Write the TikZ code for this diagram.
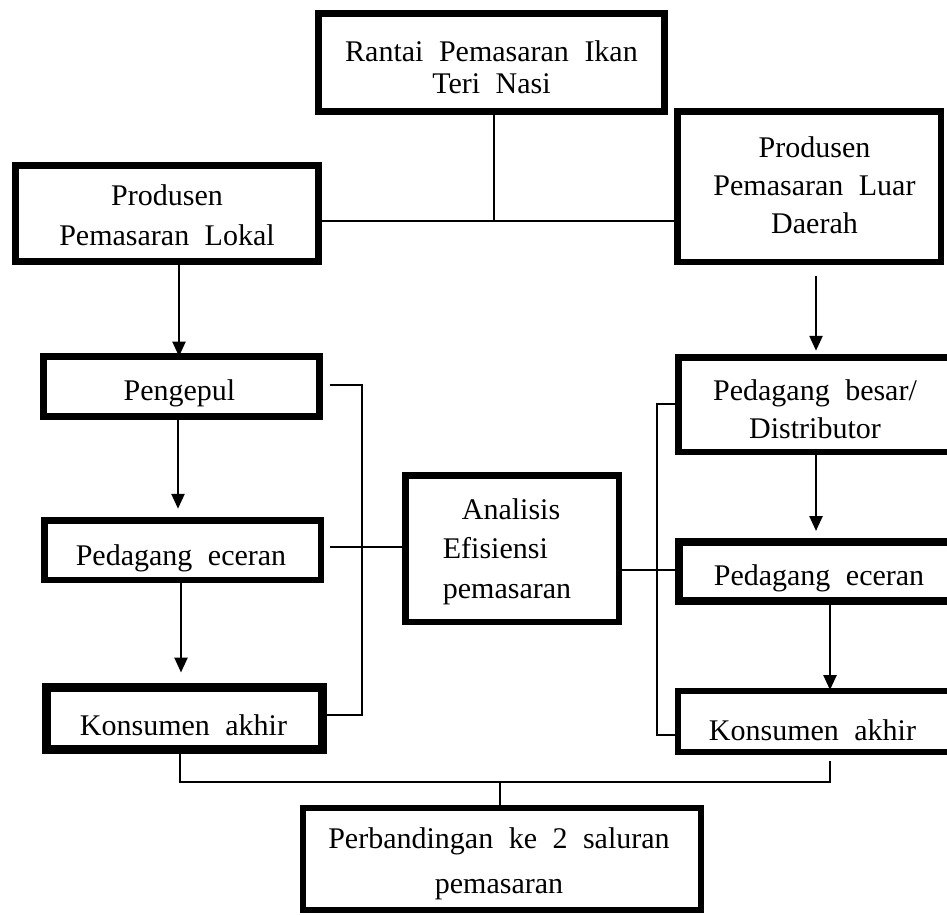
\documentclass[tikz,border=0pt]{standalone}
\usepackage{fontspec}
\setmainfont{Liberation Serif}
\usetikzlibrary{arrows.meta}
% #1 baseline shift below centre, #2 horizontal offset (x2), #3 line spacing, #4 column, #5 text
\newcommand\bt[5]{\raisebox{-#1pt}[0pt][0pt]{\makebox[0pt]{\hspace*{#2pt}\fontsize{30}{#3}\selectfont\spaceskip=15.5pt\relax\begin{tabular}[t]{@{}#4@{}}#5\end{tabular}}}}
\begin{document}
\begin{tikzpicture}[x=1pt,y=-1pt,
  box/.style={draw, line width=6.5pt, inner sep=0pt},
  ln/.style={line width=2.5pt},
  arr/.style={ln, -{Triangle[width=13pt,length=15pt]}}]
\useasboundingbox (0,0) rectangle (947,914);

% boxes
\node[box, line width=7pt, minimum width=346pt, minimum height=98pt] (rantai) at (491.5,62.5)
  {\bt{-1}{0}{32}{c}{Rantai Pemasaran Ikan\\Teri Nasi}};
\node[box, line width=7pt, minimum width=303pt, minimum height=96pt] (lokal) at (167,213.5)
  {\bt{-8.5}{0}{40}{c}{Produsen\\Pemasaran Lokal}};
\node[box, minimum width=263.5pt, minimum height=150.5pt] (luar) at (809,186.5)
  {\bt{-29.5}{11}{38}{c}{Produsen\\Pemasaran Luar\\Daerah}};
\node[box, line width=7pt, minimum width=276pt, minimum height=60pt] (pengepul) at (181.5,386.5)
  {\bt{13.5}{-4}{38}{c}{Pengepul}};
\node[box, minimum width=276.5pt, minimum height=59.5pt] (eceranL) at (182.5,550)
  {\bt{15}{-3}{38}{c}{Pedagang eceran}};
\node[box, line width=9pt, minimum width=276pt, minimum height=62pt] (konsL) at (184.5,718.5)
  {\bt{16.5}{-2}{38}{c}{Konsumen akhir}};
\node[box, minimum width=273.5pt, minimum height=94.5pt] (besar) at (815,404.5)
  {\bt{-4.5}{0}{38}{c}{Pedagang besar/\\Distributor}};
\node[box, line width=8pt, minimum width=272pt, minimum height=59pt] (eceranR) at (815,571.5)
  {\bt{13.5}{8}{38}{c}{Pedagang eceran}};
\node[box, line width=6pt, minimum width=274pt, minimum height=61pt] (konsR) at (815,721.5)
  {\bt{18.5}{-5}{38}{c}{Konsumen akhir}};
\node[box, minimum width=213.5pt, minimum height=146.5pt] (analisis) at (512,548.5)
  {\bt{-29.5}{-10}{39.5}{l}{\hspace*{19pt}Analisis\\Efisiensi\\pemasaran}};
\node[box, line width=6pt, minimum width=398pt, minimum height=102pt] (perb) at (502,859)
  {\bt{-11}{-6}{45}{c}{Perbandingan ke 2 saluran\\pemasaran}};

% helper coordinates
\coordinate (vR) at (494,221);
\coordinate (aL1) at (179,0);
\coordinate (aL2) at (178,0);
\coordinate (aL3) at (181,0);
\coordinate (aR1) at (816,0);
\coordinate (aR2) at (830,0);
\coordinate (bL1) at (362,385);
\coordinate (bL2) at (362,715);
\coordinate (mL) at (0,547);
\coordinate (bR1) at (657,404);
\coordinate (bR2) at (657,735);
\coordinate (mR) at (0,570);
\coordinate (bB1) at (180,782);
\coordinate (bB2) at (830,782);
\coordinate (bB3) at (500,782);

% top connector
\draw[ln] (rantai.south -| vR) -- (vR);
\draw[ln] (lokal.east |- vR) -- (luar.west |- vR);

% arrows left column
\draw[arr, shorten >=-3.5pt] (lokal.south -| aL1) -- (pengepul.north -| aL1);
\draw[arr, shorten >=8.25pt] (pengepul.south -| aL2) -- (eceranL.north -| aL2);
\draw[arr, shorten >=10.5pt] (eceranL.south -| aL3) -- (konsL.north -| aL3);

% arrows right column
\draw[arr, shorten <=11.25pt, shorten >=3.25pt] (luar.south -| aR1) -- (besar.north -| aR1);
\draw[arr, shorten >=7pt] (besar.south -| aR1) -- (eceranR.north -| aR1);
\draw[arr, shorten >=-2pt] (eceranR.south -| aR2) -- (konsR.north -| aR2);

% left bracket and link to analysis
\draw[ln, shorten <=6.5pt] (pengepul.east |- bL1) -- (bL1) -- (bL2) -- (konsL.east |- bL2);
\draw[ln, shorten <=6pt] (eceranL.east |- mL) -- (analisis.west |- mL);

% right bracket and link to analysis
\draw[ln] (besar.west |- bR1) -- (bR1) -- (bR2) -- (konsR.west |- bR2);
\draw[ln, shorten >=-6pt] (analisis.east |- mR) -- (eceranR.west |- mR);

% bottom bracket
\draw[ln, shorten >=6pt] (konsL.south -| bB1) -- (bB1) -- (bB2) -- (konsR.south -| bB2);
\draw[ln] (bB3) -- (perb.north -| bB3);
\end{tikzpicture}
\end{document}
